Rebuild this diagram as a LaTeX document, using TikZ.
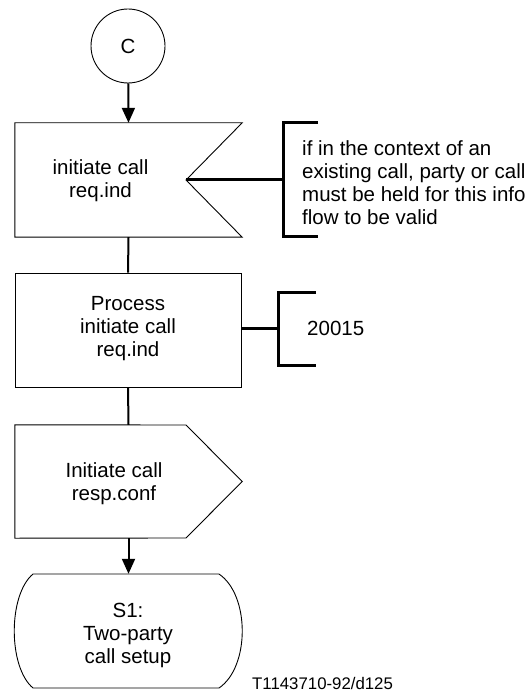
\documentclass[tikz,border=0pt]{standalone}
\usepackage{fontspec}
\setmainfont{Liberation Sans}
\usetikzlibrary{arrows.meta}
\begin{document}
\begin{tikzpicture}[x=1pt,y=-1pt,
  every node/.style={font=\fontsize{20.5}{23}\selectfont},
  outline/.style={draw=black,line width=0.9pt,line join=miter},
  frame/.style={minimum width=227pt,minimum height=114pt,inner sep=0pt},
  label/.style={align=center,inner sep=0pt},
  conn/.style={line width=2pt},
  flow/.style={line width=2pt,-{Triangle[width=13pt,length=15pt]}},
  brk/.style={line width=3pt}]
\useasboundingbox (0,0) rectangle (530,692);
% connector C
\node[circle,outline,minimum size=74pt,inner sep=0pt] (c) at (128,46) {C};
% input signal
\node[frame] (b1) at (128.5,180) {};
\coordinate (n1) at (186,180);
\draw[outline] (b1.north west) -- (b1.north east) -- (n1) -- (b1.south east) -- (b1.south west) -- cycle;
\node[label] (t1) at (100.5,181) {initiate call\\req.ind};
% process
\node[frame,outline,minimum width=226pt] (b2) at (128,330) {};
\node[label] (t2) at (128,328.5) {Process\\initiate call\\req.ind};
% output signal
\node[frame,minimum height=113pt] (b3) at (128.5,481.5) {};
\draw[outline] (b3.north west) -- (186,425) -- (b3.east) -- (186,538) -- (b3.south west) -- cycle;
\node[label] (t3) at (114,483.5) {Initiate call\\resp.conf};
% state
\node[frame] (s) at (128.5,631) {};
\draw[outline] (33,574) -- (219,574) .. controls (250,595) and (250,667) .. (219,688)
  -- (33,688) .. controls (8,667) and (8,595) .. (33,574) -- cycle;
\node[label] (t4) at (128,635) {S1:\\Two-party\\call setup};
% flow lines
\draw[flow] (c) -- (b1.north);
\draw[conn] (b1.south) -- (b2.north);
\draw[conn] (b2.south) -- (b3.north);
\draw[flow] (b3.south) -- (s.north);
% comment 1
\coordinate (k1) at (283,180);
\draw[brk] (n1) -- (k1);
\draw[brk,line cap=butt] (318,123) -- (283,123) -- (283,237) -- (318,237);
\node[label,align=left,anchor=west] (c1) at (302,183)
  {if in the context of an\\existing call, party or call\\must be held for this info\\flow to be valid};
% comment 2
\coordinate (k2) at (278,328);
\draw[brk] (b2.east |- k2) -- (k2);
\draw[brk] (316,292) -- (278,292) -- (278,365) -- (316,365);
\node[label,anchor=west] (c2) at (307,328) {20015};
% reference
\node[inner sep=0pt,anchor=west,font=\fontsize{16.8}{19}\selectfont] (ref) at (252,683) {T1143710-92/d125};
\end{tikzpicture}
\end{document}
